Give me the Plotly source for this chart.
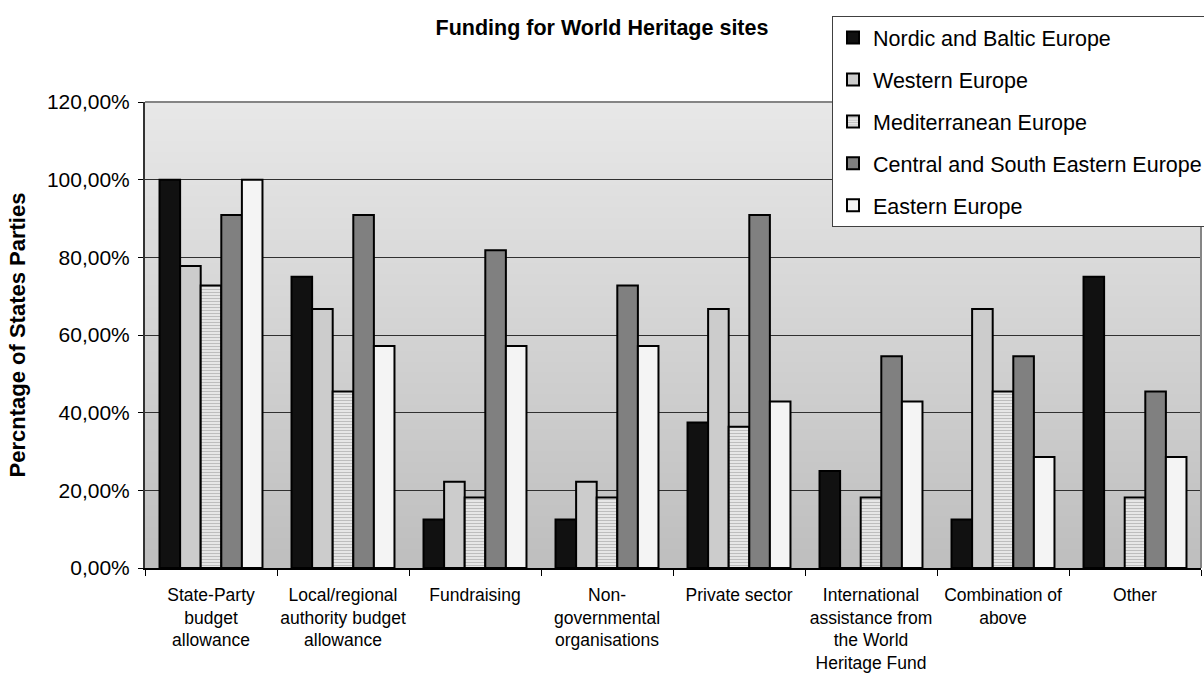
import base64
import struct
import zlib

import plotly.graph_objects as go

# Funding sources (x categories) and share of States Parties per region
categories = [
    "State-Party<br>budget<br>allowance",
    "Local/regional<br>authority budget<br>allowance",
    "Fundraising",
    "Non-<br>governmental<br>organisations",
    "Private sector",
    "International<br>assistance from<br>the World<br>Heritage Fund",
    "Combination of<br>above",
    "Other",
]

nordic_baltic = [100.00, 75.00, 12.50, 12.50, 37.50, 25.00, 12.50, 75.00]
western = [77.78, 66.67, 22.22, 22.22, 66.67, 0.00, 66.67, 0.00]
mediterranean = [72.73, 45.45, 18.18, 18.18, 36.36, 18.18, 45.45, 18.18]
central_se = [90.91, 90.91, 81.82, 72.73, 90.91, 54.55, 54.55, 45.45]
eastern = [100.00, 57.14, 57.14, 57.14, 42.86, 42.86, 28.57, 28.57]

y_ticks = [0, 20, 40, 60, 80, 100, 120]
y_tick_labels = ["0,00%", "20,00%", "40,00%", "60,00%", "80,00%", "100,00%", "120,00%"]


def gradient_png(top, bottom, rows=256):
    """Build a 1-pixel-wide grey PNG fading from `top` to `bottom`."""
    raw = b""
    for i in range(rows):
        v = round(top + (bottom - top) * i / (rows - 1))
        raw += b"\x00" + bytes([v])

    def chunk(tag, data):
        body = tag + data
        return struct.pack(">I", len(data)) + body + struct.pack(">I", zlib.crc32(body) & 0xFFFFFFFF)

    png = b"\x89PNG\r\n\x1a\n"
    png += chunk(b"IHDR", struct.pack(">IIBBBBB", 1, rows, 8, 0, 0, 0, 0))
    png += chunk(b"IDAT", zlib.compress(raw))
    png += chunk(b"IEND", b"")
    return "data:image/png;base64," + base64.b64encode(png).decode()


outline = dict(color="#000000", width=2)

series = [
    ("Nordic and Baltic Europe", nordic_baltic, dict(color="#111111", line=outline)),
    ("Western Europe", western, dict(color="#cccccc", line=outline)),
    ("Mediterranean Europe", mediterranean,
     dict(color="#eeeeee", line=outline,
          pattern=dict(shape="-", fgcolor="#8c8c8c", bgcolor="#eeeeee", size=3, solidity=0.45))),
    ("Central and South Eastern Europe", central_se, dict(color="#808080", line=outline)),
    ("Eastern Europe", eastern, dict(color="#f4f4f4", line=outline)),
]

fig = go.Figure()
for i, (name, values, marker) in enumerate(series):
    fig.add_trace(go.Bar(
        x=categories, y=values, name=name, marker=marker,
        legendgroup=f"g{i}",
    ))

fig.update_layout(
    width=1204,
    height=677,
    margin=dict(l=145, r=3, t=102, b=109, autoexpand=False),
    paper_bgcolor="#ffffff",
    plot_bgcolor="#ffffff",
    font=dict(family="Liberation Sans, Arial, sans-serif", color="#000000"),
    barmode="group",
    bargap=0.22,
    bargroupgap=0,
    title=dict(
        text="<b>Funding for World Heritage sites</b>",
        x=0.5, xref="container", xanchor="center",
        y=1 - 27 / 677, yref="container", yanchor="middle",
        font=dict(size=21.5),
    ),
    legend=dict(
        x=(832 - 145) / 1056, xanchor="left",
        y=(568 - 16) / 466, yanchor="top",
        bgcolor="#ffffff",
        bordercolor="#404040",
        borderwidth=1,
        font=dict(size=21.5),
        traceorder="grouped",
        tracegroupgap=11,
        itemwidth=30,
    ),
    showlegend=True,
    images=[dict(
        source=gradient_png(0xE8, 0xBE),
        xref="paper", yref="paper", x=0, y=1, sizex=1, sizey=1,
        sizing="stretch", layer="below", xanchor="left", yanchor="top",
    )],
    shapes=[
        # grey frame on the top and right of the plotting area
        dict(type="line", xref="paper", yref="paper", x0=0, x1=1, y0=1, y1=1,
             line=dict(color="#858585", width=2), layer="above"),
        dict(type="line", xref="paper", yref="paper", x0=1, x1=1, y0=0, y1=1,
             line=dict(color="#858585", width=2), layer="above"),
    ],
)

fig.update_xaxes(
    type="category",
    tickson="boundaries",
    tickangle=0,
    automargin=False,
    ticks="outside",
    ticklen=6,
    tickcolor="#000000",
    tickwidth=1,
    showline=True,
    linecolor="#000000",
    linewidth=1.5,
    showgrid=False,
    tickfont=dict(size=17.5),
    ticklabelstandoff=10,
)

fig.update_yaxes(
    range=[0, 120],
    tickvals=y_ticks,
    ticktext=y_tick_labels,
    automargin=False,
    ticks="outside",
    ticklen=5,
    tickcolor="#000000",
    showline=True,
    linecolor="#333333",
    linewidth=2,
    showgrid=True,
    gridcolor="#303030",
    gridwidth=1,
    zeroline=False,
    tickfont=dict(size=21),
    ticklabelstandoff=4,
    title=dict(text="<b>Percntage of States Parties</b>", font=dict(size=22), standoff=15),
)

fig.write_html("out.html")
